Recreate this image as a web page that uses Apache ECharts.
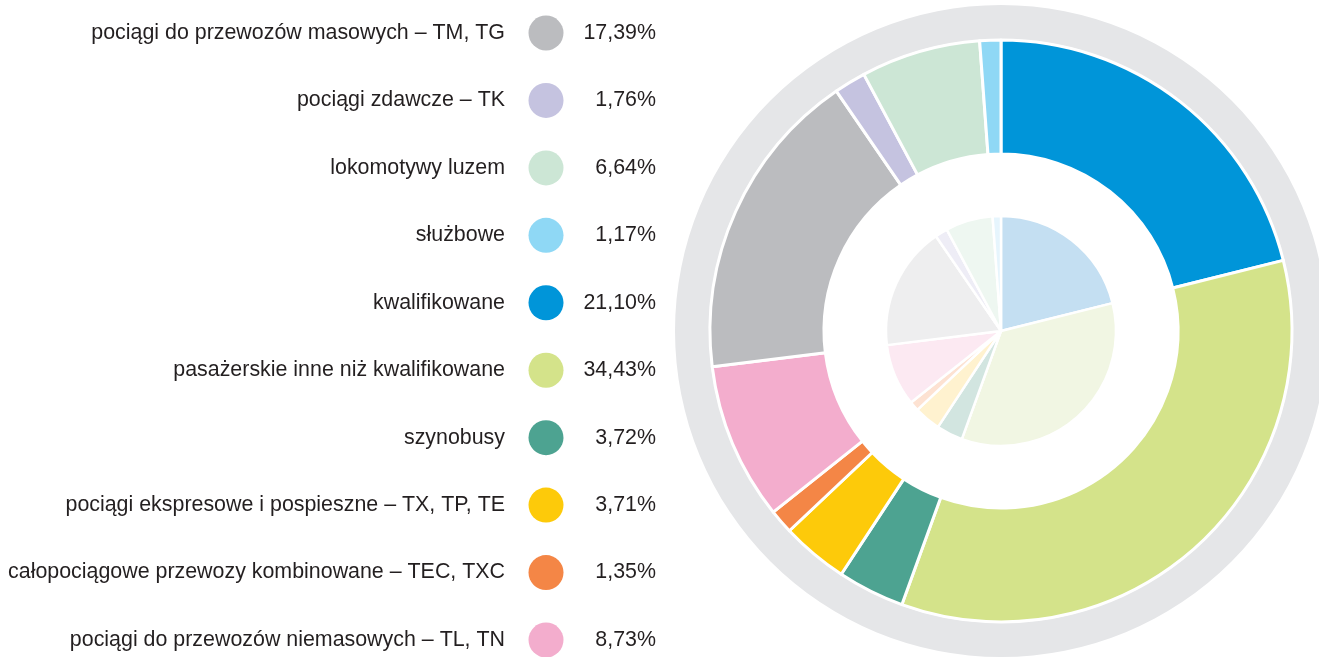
<!DOCTYPE html>
<html>
<head>
<meta charset="utf-8">
<script src="https://cdn.jsdelivr.net/npm/echarts@6/dist/echarts.min.js"></script>
<style>
  html, body { margin: 0; padding: 0; background: #fff; }
  #chart { width: 1319px; height: 657px; }
</style>
</head>
<body>
<div id="chart"></div>
<script>
// categories in pie order, clockwise from 12 o'clock
var categories = [
  'kwalifikowane',
  'pasażerskie inne niż kwalifikowane',
  'szynobusy',
  'pociągi ekspresowe i pospieszne – TX, TP, TE',
  'całopociągowe przewozy kombinowane – TEC, TXC',
  'pociągi do przewozów niemasowych – TL, TN',
  'pociągi do przewozów masowych – TM, TG',
  'pociągi zdawcze – TK',
  'lokomotywy luzem',
  'służbowe'
]
var shares = [21.10, 34.43, 3.72, 3.71, 1.35, 8.73, 17.39, 1.76, 6.64, 1.17]
var colors = ['#0095d9', '#d4e38a', '#4da391', '#fdca0a', '#f48646', '#f3adcd', '#bbbcbf', '#c5c3e0', '#cce6d5', '#8fd8f5']
var paleColors = ['#c4dff2', '#f1f6e3', '#d2e5e0', '#fff2cf', '#fde2d2', '#fce9f2', '#eeeeef', '#eeedf6', '#eef7f1', '#e6f5fd']
// legend order (top to bottom) as indexes into categories
var legendOrder = [6, 7, 8, 9, 0, 1, 2, 3, 4, 5]

var textColor = '#231f20'
var font = 'Liberation Sans'

function pct(v) {
  return v.toFixed(2).replace('.', ',') + '%'
}

var legendNames = legendOrder.map(function(i) { return categories[i] })
var legendPct = legendOrder.map(function(i) { return pct(shares[i]) })

var chart = echarts.init(document.getElementById('chart'))
chart.setOption({
  animation: false,
  grid: { left: 528, width: 36, top: 33, bottom: 17 },
  xAxis: { type: 'value', min: -1, max: 1, show: false },
  yAxis: [
    {
      type: 'category',
      data: legendNames,
      inverse: true,
      boundaryGap: false,
      axisLine: { show: false },
      axisTick: { show: false },
      axisLabel: { margin: 23, color: textColor, fontSize: 21.4, fontFamily: font }
    },
    {
      type: 'category',
      position: 'right',
      data: legendPct,
      inverse: true,
      boundaryGap: false,
      axisLine: { show: false },
      axisTick: { show: false },
      axisLabel: { margin: 92, align: 'right', color: textColor, fontSize: 21.4, fontFamily: font }
    }
  ],
  series: [
    {
      type: 'scatter',
      symbol: 'circle',
      symbolSize: 35,
      silent: true,
      itemStyle: { opacity: 1 },
      data: legendOrder.map(function(i, k) {
        return { value: [0, k], itemStyle: { color: colors[i] } }
      })
    },
    {
      type: 'pie',
      silent: true,
      center: [1001, 331],
      radius: [292, 326],
      label: { show: false },
      labelLine: { show: false },
      itemStyle: { color: '#e5e6e8' },
      data: [{ value: 1, name: 'ring' }]
    },
    {
      type: 'pie',
      silent: true,
      center: [1001, 331],
      radius: [177, 291],
      startAngle: 90,
      label: { show: false },
      labelLine: { show: false },
      itemStyle: { borderColor: '#fff', borderWidth: 3 },
      data: categories.map(function(c, i) {
        return { name: c, value: shares[i], itemStyle: { color: colors[i] } }
      })
    },
    {
      type: 'pie',
      silent: true,
      center: [1001, 331],
      radius: [0, 115],
      startAngle: 90,
      label: { show: false },
      labelLine: { show: false },
      itemStyle: { borderColor: '#fff', borderWidth: 2.5 },
      data: categories.map(function(c, i) {
        return { name: c, value: shares[i], itemStyle: { color: paleColors[i] } }
      })
    }
  ]
})
</script>
</body>
</html>
